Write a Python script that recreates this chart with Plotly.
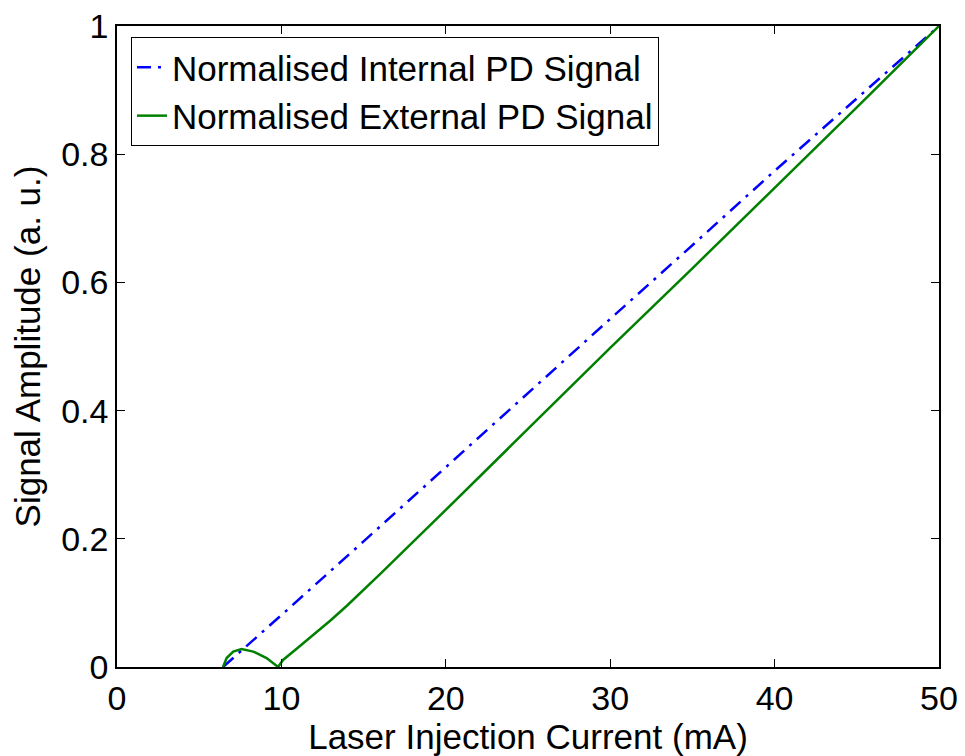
import plotly.graph_objects as go

# Normalised internal PD signal (blue, dash-dot)
int_x = [6.45, 8.0, 10.0, 15.0, 20.0, 25.0, 30.0, 35.0, 40.0, 45.0, 50.0]
int_y = [0.0, 0.035, 0.081, 0.196, 0.312, 0.428, 0.543, 0.658, 0.774, 0.887, 1.0]

# Normalised external PD signal (green, solid)
ext_x = [6.45, 6.67, 7.07, 7.58, 8.29, 9.1, 9.8, 10.1, 11.0, 12.0, 13.0, 14.0, 16.0, 20.0, 25.0, 30.0, 35.0, 40.0, 45.0, 50.0]
ext_y = [0.0, 0.014, 0.024, 0.028, 0.024, 0.014, 0.0, 0.011, 0.030, 0.051, 0.073, 0.096, 0.145, 0.245, 0.371, 0.498, 0.622, 0.747, 0.873, 1.0]

x_ticks = [0, 10, 20, 30, 40, 50]
x_ticklabels = ["0", "10", "20", "30", "40", "50"]
y_ticks = [0, 0.2, 0.4, 0.6, 0.8, 1.0]
y_ticklabels = ["0", "0.2", "0.4", "0.6", "0.8", "1"]

FONT = "Arial, Liberation Sans, Helvetica, sans-serif"
FS = 35

fig = go.Figure()
fig.add_trace(go.Scatter(
    x=int_x, y=int_y, mode="lines", name="Normalised Internal PD Signal",
    line=dict(color="#0000FF", width=2.5, dash="14px,7px,3px,7px"),
))
fig.add_trace(go.Scatter(
    x=ext_x, y=ext_y, mode="lines", name="Normalised External PD Signal",
    line=dict(color="#008000", width=2.5),
))

axis_common = dict(
    showgrid=False, zeroline=False, showline=True, linecolor="black", linewidth=1.5,
    mirror="ticks", ticks="inside", ticklen=8, tickwidth=1, tickcolor="black",
    tickfont=dict(family=FONT, size=FS - 1, color="black"),
    ticklabeloverflow="allow", automargin=False,
)

fig.update_layout(
    width=957, height=748,
    paper_bgcolor="white", plot_bgcolor="white",
    margin=dict(l=109, r=26, t=18, b=89),
    showlegend=True,
    legend=dict(
        x=0.017, y=0.983, xanchor="left", yanchor="top",
        bgcolor="white", bordercolor="black", borderwidth=1,
        font=dict(family=FONT, size=FS, color="black"),
        tracegroupgap=0,
    ),
    xaxis=dict(
        range=[0, 50], tickvals=x_ticks, ticktext=x_ticklabels,
        title=dict(text="Laser Injection Current (mA)", font=dict(family=FONT, size=FS, color="black"), standoff=2),
        **axis_common,
    ),
    yaxis=dict(
        range=[0, 1], tickvals=y_ticks, ticktext=y_ticklabels,
        title=dict(text="Signal Amplitude (a. u.)", font=dict(family=FONT, size=FS, color="black"), standoff=14),
        **axis_common,
    ),
)

fig.write_html("out.html")
